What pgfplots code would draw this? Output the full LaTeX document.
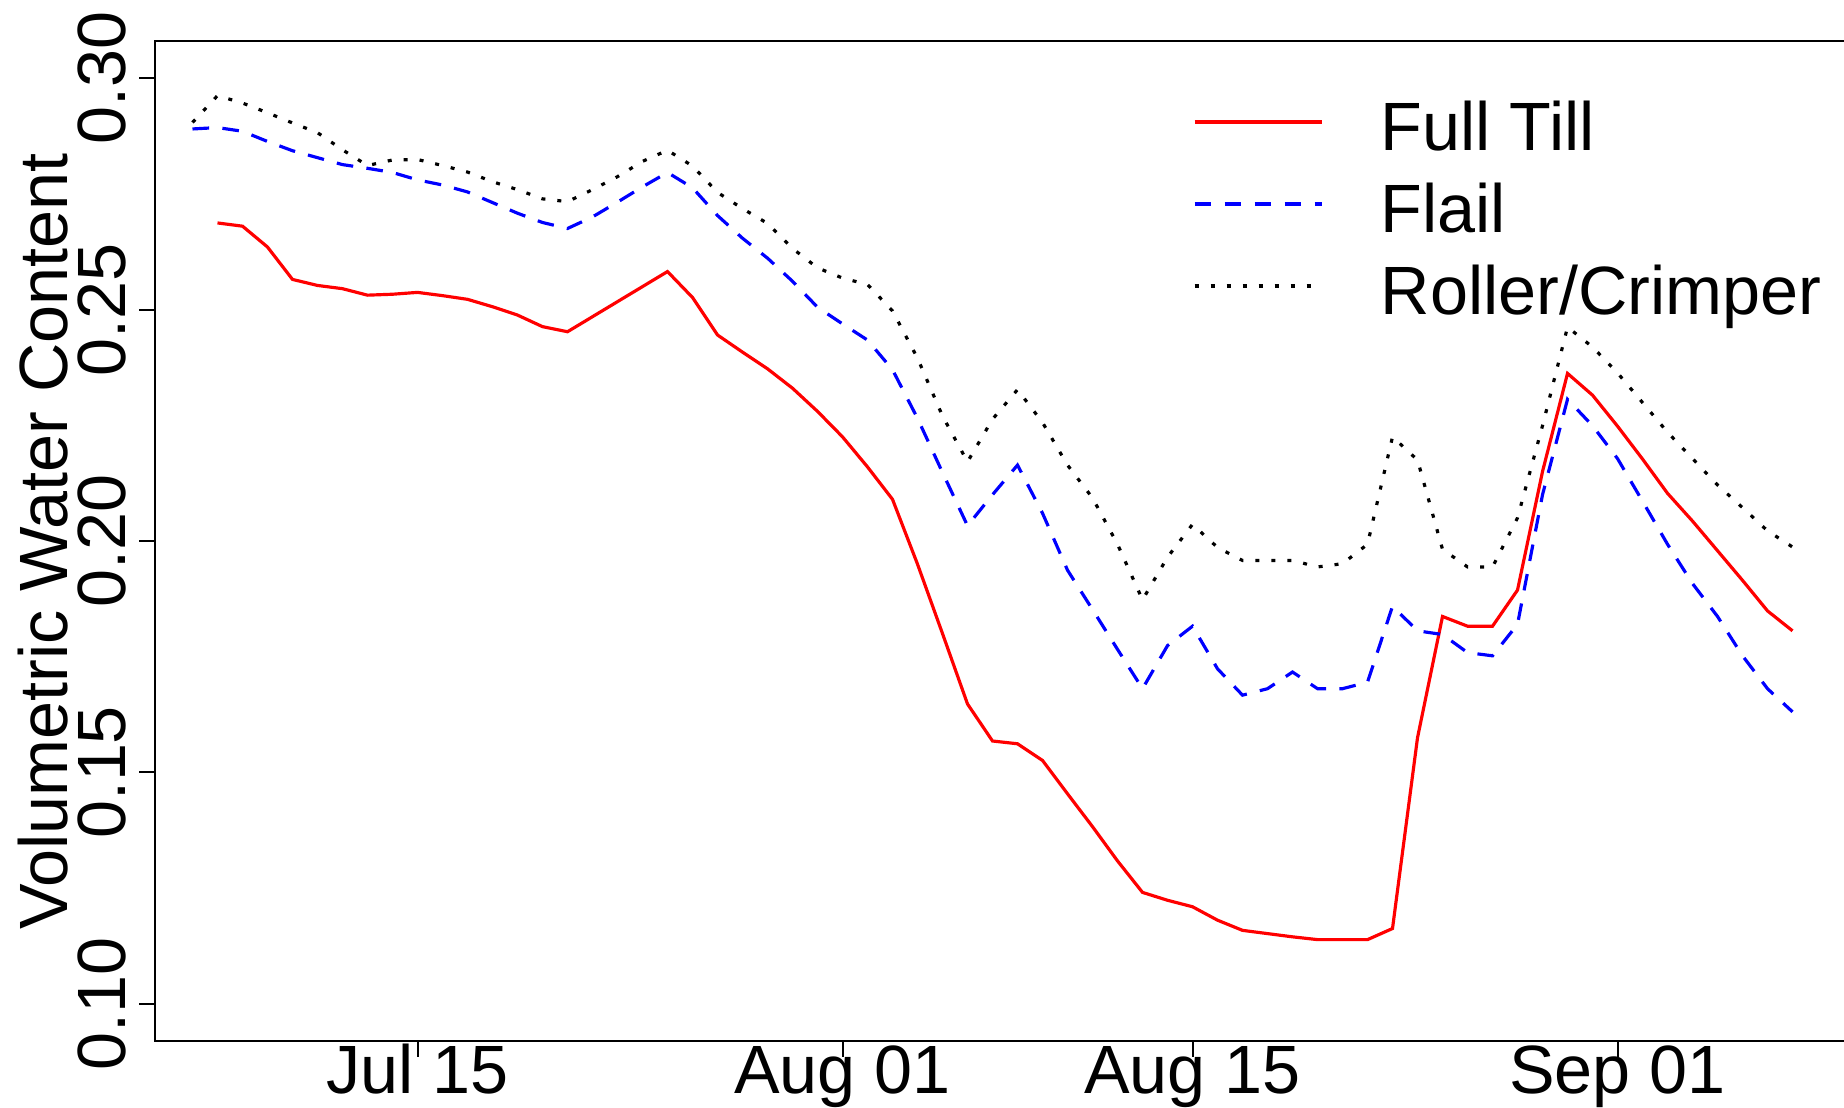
\documentclass[border=0pt]{standalone}
\usepackage{fontspec}
\setmainfont{Liberation Sans}
\usepackage{pgfplots}
\usepackage{pgfplotstable}
\pgfplotsset{compat=1.18}

% x = days since Jul 1 (Jul 15 = 14, Aug 01 = 31, Aug 15 = 45, Sep 01 = 62)
\pgfplotstableread{
d v
6 0.2687
7 0.2680
8 0.2635
9 0.2565
10 0.2552
11 0.2545
12 0.2531
13 0.2533
14 0.2537
15 0.2530
16 0.2522
17 0.2506
18 0.2488
19 0.2463
20 0.2452
24 0.2582
25 0.2526
26 0.2445
27 0.2408
28 0.2372
29 0.2330
30 0.2280
31 0.2225
32 0.2160
33 0.2090
34 0.1950
35 0.1800
36 0.1648
37 0.1568
38 0.1562
39 0.1526
40 0.1454
41 0.1383
42 0.1309
43 0.1241
44 0.1224
45 0.1210
46 0.1181
47 0.1159
48 0.1152
49 0.1145
50 0.1139
51 0.1139
52 0.1139
53 0.1163
54 0.1575
55 0.1837
56 0.1816
57 0.1816
58 0.1894
59 0.2150
60 0.2362
61 0.2315
62 0.2248
63 0.2177
64 0.2103
65 0.2043
66 0.1979
67 0.1915
68 0.1849
69 0.1806
}\fulltill

\pgfplotstableread{
d v
5 0.2890
6 0.2893
7 0.2885
8 0.2863
9 0.2843
10 0.2828
11 0.2813
12 0.2805
13 0.2796
14 0.2780
15 0.2769
16 0.2754
17 0.2731
18 0.2708
19 0.2688
20 0.2675
21 0.2700
22 0.2732
23 0.2765
24 0.2796
25 0.2763
26 0.2703
27 0.2654
28 0.2611
29 0.2561
30 0.2505
31 0.2469
32 0.2434
33 0.2370
34 0.2265
35 0.2148
36 0.2033
37 0.2100
38 0.2164
39 0.2060
40 0.1937
41 0.1852
42 0.1766
43 0.1681
44 0.1774
45 0.1816
46 0.1724
47 0.1667
48 0.1681
49 0.1717
50 0.1681
51 0.1681
52 0.1695
53 0.1859
54 0.1806
55 0.1798
56 0.1759
57 0.1752
58 0.1820
59 0.2100
60 0.2306
61 0.2249
62 0.2178
63 0.2086
64 0.1993
65 0.1908
66 0.1837
67 0.1752
68 0.1681
69 0.1631
}\flail

\pgfplotstableread{
d v
5 0.2904
6 0.2962
7 0.2946
8 0.2925
9 0.2903
10 0.2882
11 0.2845
12 0.2811
13 0.2823
14 0.2824
15 0.2811
16 0.2797
17 0.2776
18 0.2759
19 0.2739
20 0.2733
21 0.2759
22 0.2787
23 0.2820
24 0.2844
25 0.2810
26 0.2753
27 0.2718
28 0.2686
29 0.2632
30 0.2590
31 0.2568
32 0.2554
33 0.2497
34 0.2395
35 0.2270
36 0.2171
37 0.2263
38 0.2327
39 0.2256
40 0.2164
41 0.2093
42 0.1993
43 0.1873
44 0.1965
45 0.2036
46 0.1986
47 0.1958
48 0.1958
49 0.1958
50 0.1944
51 0.1951
52 0.1993
53 0.2225
54 0.2175
55 0.1982
56 0.1944
57 0.1944
58 0.2050
59 0.2249
60 0.2462
61 0.2419
62 0.2363
63 0.2299
64 0.2235
65 0.2178
66 0.2121
67 0.2072
68 0.2022
69 0.1987
}\roller

\begin{document}
\fontsize{20.5}{24.6}\selectfont
\begin{tikzpicture}
\begin{axis}[
  name=ax,
  scale only axis,
  width=508.5pt, height=300pt,
  xmin=3.5, xmax=71.3,
  ymin=0.092, ymax=0.308,
  axis line style={line width=0.8pt},
  tick align=outside,
  xtick pos=left, ytick pos=left,
  major tick length=4.7pt,
  tick style={line width=0.6pt, black},
  xtick={14,31,45,62},
  xticklabels={Jul 15,Aug 01,Aug 15,Sep 01},
  ytick={0.10,0.15,0.20,0.25,0.30},
  yticklabels={0.10,0.15,0.20,0.25,0.30},
  xticklabel style={anchor=base, yshift=-10.9pt},
  yticklabel style={xshift=-4.0pt, rotate=90, anchor=base},
  ylabel={Volumetric Water Content},
  every axis y label/.style={at={(rel axis cs:0,0.5)}, xshift=-26.2pt, rotate=90, anchor=base},
  legend cell align=left,
  legend style={draw=none, fill=none, inner sep=0pt, outer sep=0pt,
    at={(rel axis cs:0.6124,0.940)}, anchor=north west,
    row sep=4.6pt, column sep=17.3pt,
    cells={anchor=base west},
    nodes={inner sep=0pt, text height=15pt, text depth=5pt},
    font=\fontsize{20.5}{24.6}\selectfont},
  legend image code/.code={\draw[#1] (0pt,8.7pt) -- (38.1pt,8.7pt);},
]
\addplot[red, line width=0.95pt] table[x=d,y=v] {\fulltill};
\addlegendentry{Full Till}
\addplot[blue, line width=0.95pt, dash pattern=on 5pt off 4pt] table[x=d,y=v] {\flail};
\addlegendentry{Flail}
\addplot[black, line width=0.95pt, dash pattern=on 1.2pt off 3.6pt] table[x=d,y=v] {\roller};
\addlegendentry{Roller/Crimper}
\end{axis}
\pgfresetboundingbox
\path[use as bounding box] ([xshift=-46.5pt, yshift=-19.8pt]ax.south west) rectangle ++(553.2pt, 332.1pt);
\end{tikzpicture}
\end{document}
